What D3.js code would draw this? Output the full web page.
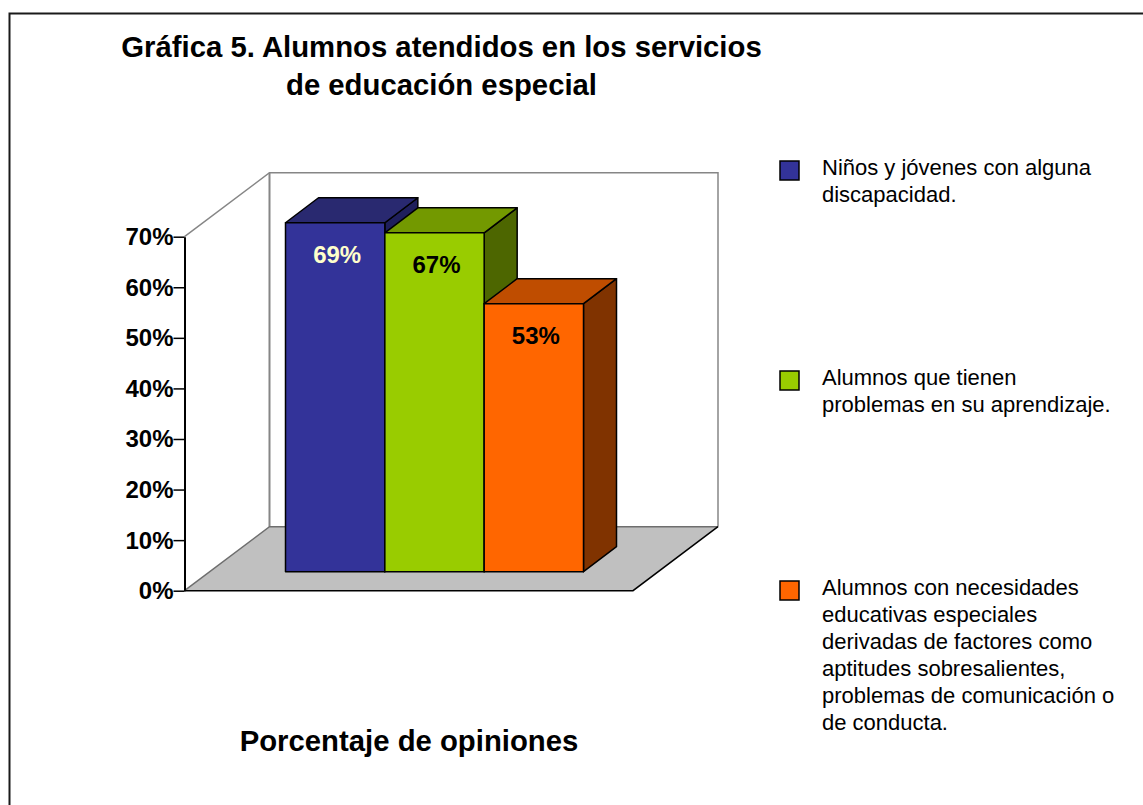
<!DOCTYPE html>
<html>
<head>
<meta charset="utf-8">
<script src="https://cdn.jsdelivr.net/npm/d3@7"></script>
<style>
  html, body { margin: 0; padding: 0; background: #fff; }
  svg { display: block; }
  text { font-family: "Liberation Sans", Arial, sans-serif; fill: #000; }
</style>
</head>
<body>
<div id="chart"></div>
<script>
// Chart values
const categories = ['discapacidad', 'aprendizaje', 'necesidades'];
const values = [69, 67, 53];
const tickValues = [0, 10, 20, 30, 40, 50, 60, 70];
const titleLines = ['Gráfica 5. Alumnos atendidos en los servicios', 'de educación especial'];
const axisTitle = 'Porcentaje de opiniones';
const legendLines = [
  ['Niños y jóvenes con alguna', 'discapacidad.'],
  ['Alumnos que tienen', 'problemas en su aprendizaje.'],
  ['Alumnos con necesidades', 'educativas especiales', 'derivadas de factores como', 'aptitudes sobresalientes,', 'problemas de comunicación o', 'de conducta.']
];
const frontColors = ['#333399', '#99cc00', '#ff6600'];
const topColors = ['#292970', '#739900', '#bf4d00'];
const sideColors = ['#1f1f5c', '#4d6600', '#803300'];
const labelColors = ['#ffffcc', '#000', '#000'];

// Declaring initial variables
let svgwidth = 1143;
let svgheight = 805;

let svg = d3
  .select('#chart')
  .append('svg')
  .attr('width', svgwidth)
  .attr('height', svgheight);

// Outer frame, right and bottom edges fall off the page
svg
  .append('path')
  .attr('d', `M9.5,${svgheight + 5}V13.5H${svgwidth + 5}`)
  .attr('fill', 'none')
  .attr('stroke', '#1a1a1a')
  .attr('stroke-width', 2);

// Title
svg
  .selectAll('text.title')
  .data(titleLines)
  .join('text')
  .attr('class', 'title')
  .attr('x', 441.5)
  .attr('y', (d, i) => 57 + i * 38)
  .attr('text-anchor', 'middle')
  .attr('font-size', 29.3)
  .attr('font-weight', 'bold')
  .text((d) => d);

// Scales
let yscale = d3.scaleLinear().domain([0, 70]).range([590.7, 236.7]);
let xscale = d3.scaleBand().domain(categories).range([285.5, 583.5]);
let floorscale = d3.scaleLinear().domain([0, 1]).range([184.5, 633]);

// 3d offsets
const wallDx = 85;
const wallDy = -64;
const barDx = 33;
const barDy = -25;
const baseShift = -19; // bars stand this far behind the front edge of the floor

// Back and side walls
let top0 = yscale(70);
let bot0 = yscale(0);
let x0 = floorscale(0);
let x1 = floorscale(1);

let wall = svg.append('g');
wall
  .append('path')
  .attr('d', `M${x0},${top0}L${x0 + wallDx},${top0 + wallDy}H${x1 + wallDx}V${bot0 + wallDy}`)
  .attr('fill', 'none')
  .attr('stroke', '#868686')
  .attr('stroke-width', 1.5);
wall
  .append('path')
  .attr('d', `M${x0 + wallDx},${top0 + wallDy}V${bot0 + wallDy}`)
  .attr('stroke', '#868686')
  .attr('stroke-width', 2);

// Floor
wall
  .append('path')
  .attr('d', `M${x0},${bot0}L${x0 + wallDx},${bot0 + wallDy}H${x1 + wallDx}L${x1},${bot0}Z`)
  .attr('fill', '#c0c0c0');
wall
  .append('path')
  .attr('d', `M${x0},${bot0}L${x0 + wallDx},${bot0 + wallDy}H${x1 + wallDx}`)
  .attr('fill', 'none')
  .attr('stroke', '#6e6e6e')
  .attr('stroke-width', 1.5);
wall
  .append('path')
  .attr('d', `M${x0},${bot0}H${x1}L${x1 + wallDx},${bot0 + wallDy}`)
  .attr('fill', 'none')
  .attr('stroke', '#000')
  .attr('stroke-width', 1.5);

// Bars, drawn back to front from the left
let bars = svg
  .selectAll('g.bar')
  .data(categories)
  .join('g')
  .attr('class', 'bar');

const barEdge = (sel) =>
  sel.attr('stroke', '#000').attr('stroke-width', 1.5).attr('stroke-linejoin', 'round');

bars
  .append('path')
  .attr('d', (d, i) => {
    let r = xscale(d) + xscale.bandwidth();
    let t = yscale(values[i]) + baseShift;
    let b = yscale(0) + baseShift;
    return `M${r},${t}L${r + barDx},${t + barDy}V${b + barDy}L${r},${b}Z`;
  })
  .attr('fill', (d, i) => sideColors[i])
  .call(barEdge);

bars
  .append('path')
  .attr('d', (d, i) => {
    let l = xscale(d);
    let r = l + xscale.bandwidth();
    let t = yscale(values[i]) + baseShift;
    return `M${l},${t}L${l + barDx},${t + barDy}H${r + barDx}L${r},${t}Z`;
  })
  .attr('fill', (d, i) => topColors[i])
  .call(barEdge);

bars
  .append('rect')
  .attr('x', (d) => xscale(d))
  .attr('y', (d, i) => yscale(values[i]) + baseShift)
  .attr('width', xscale.bandwidth())
  .attr('height', (d, i) => yscale(0) - yscale(values[i]))
  .attr('fill', (d, i) => frontColors[i])
  .call(barEdge);

// Value labels
bars
  .append('text')
  .attr('x', (d) => xscale(d) + xscale.bandwidth() / 2 + 2)
  .attr('y', (d, i) => yscale(values[i]) + baseShift + 40)
  .attr('text-anchor', 'middle')
  .attr('font-size', 24)
  .attr('font-weight', 'bold')
  .style('fill', (d, i) => labelColors[i])
  .text((d, i) => `${values[i]}%`);

// Y axis
let yaxis = d3
  .axisLeft(yscale)
  .tickValues(tickValues)
  .tickFormat((d) => `${d}%`)
  .tickSize(11)
  .tickSizeOuter(0);

let yg = svg
  .append('g')
  .attr('transform', `translate(${x0}, 0)`)
  .call(yaxis);
yg.select('.domain').attr('stroke', '#000').attr('stroke-width', 2);
yg.selectAll('.tick line').attr('stroke', '#000').attr('stroke-width', 1.5);
yg.selectAll('.tick text')
  .attr('x', -11)
  .attr('dy', 8)
  .attr('font-family', null)
  .attr('font-size', 24)
  .attr('font-weight', 'bold');

// Bottom label
svg
  .append('text')
  .attr('x', 409)
  .attr('y', 751)
  .attr('text-anchor', 'middle')
  .attr('font-size', 29.3)
  .attr('font-weight', 'bold')
  .text(axisTitle);

// Legend
const legendY = [161, 371, 581];
const lineHeight = 27.1;
let legend = svg
  .selectAll('g.legend')
  .data(legendLines)
  .join('g')
  .attr('class', 'legend')
  .attr('transform', (d, i) => `translate(780, ${legendY[i]})`);

legend
  .append('rect')
  .attr('width', 19)
  .attr('height', 19)
  .attr('fill', (d, i) => frontColors[i])
  .attr('stroke', '#000')
  .attr('stroke-width', 1.5);

legend
  .selectAll('text')
  .data((d) => d)
  .join('text')
  .attr('x', 42)
  .attr('y', (d, i) => 13.5 + i * lineHeight)
  .attr('font-size', 22)
  .text((d) => d);
</script>
</body>
</html>
